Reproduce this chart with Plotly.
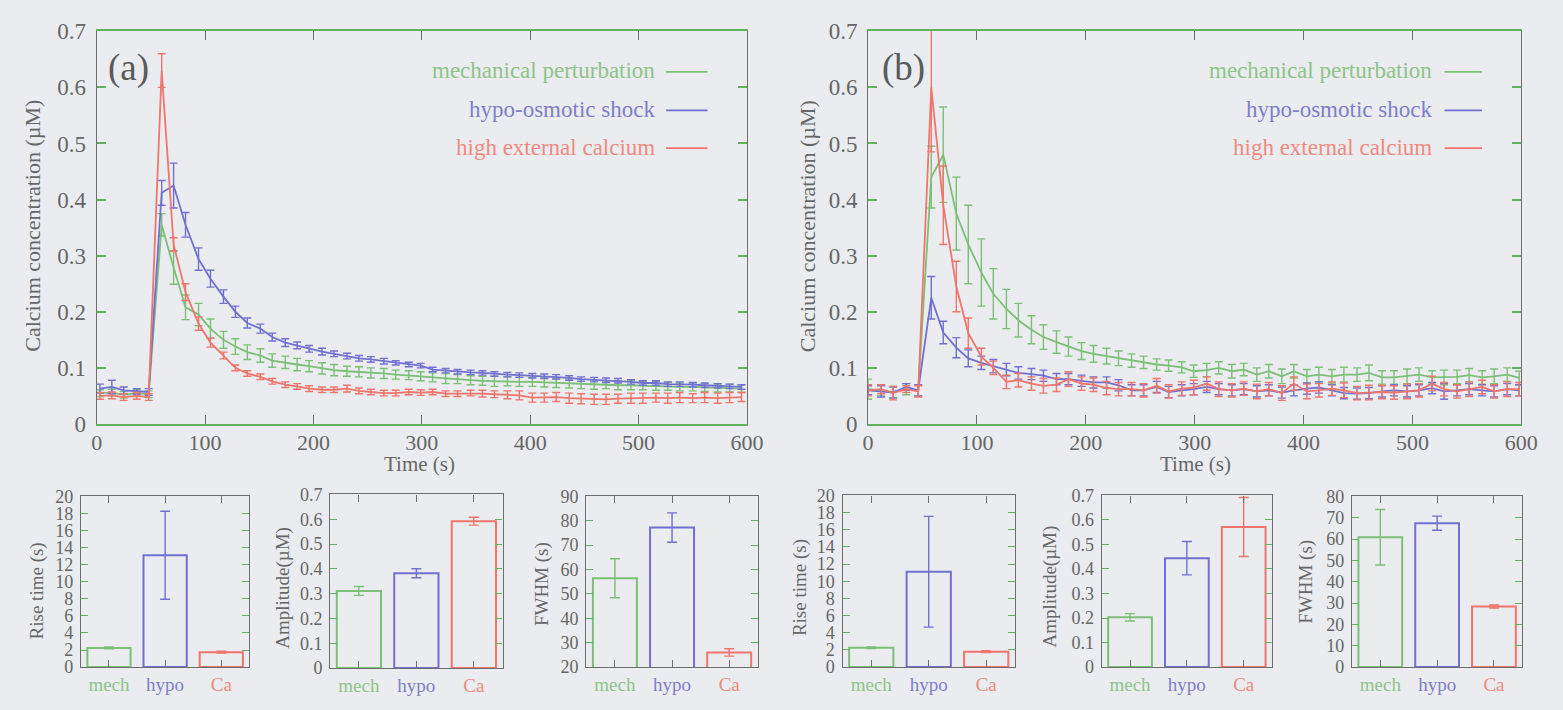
import plotly.graph_objects as go

# ---------------- data ----------------
time_a = [3, 14, 25, 37, 48, 60, 71, 82, 94, 105, 117, 128, 139, 151, 162, 174, 185, 196, 208, 219,
          231, 242, 253, 265, 276, 288, 299, 310, 322, 333, 345, 356, 367, 379, 390, 402, 413, 424,
          436, 447, 459, 470, 481, 493, 504, 516, 527, 538, 550, 561, 573, 584, 595]
mech_a = [0.055, 0.056, 0.052, 0.055, 0.053, 0.355, 0.279, 0.208, 0.195, 0.170, 0.150, 0.138, 0.128,
          0.122, 0.113, 0.110, 0.106, 0.103, 0.099, 0.096, 0.094, 0.093, 0.091, 0.090, 0.088, 0.087,
          0.085, 0.083, 0.081, 0.080, 0.078, 0.077, 0.076, 0.076, 0.075, 0.075, 0.074, 0.073, 0.072,
          0.071, 0.070, 0.070, 0.069, 0.069, 0.068, 0.068, 0.067, 0.066, 0.066, 0.065, 0.064, 0.064, 0.063]
mech_a_err = [0.006, 0.006, 0.006, 0.006, 0.006, 0.020, 0.030, 0.022, 0.020, 0.017, 0.015, 0.014, 0.013,
              0.012, 0.012, 0.011, 0.011, 0.010, 0.010, 0.010, 0.009, 0.009, 0.009, 0.009, 0.008, 0.008,
              0.008, 0.008, 0.009, 0.008, 0.008, 0.008, 0.009, 0.008, 0.008, 0.008, 0.008, 0.008, 0.008,
              0.008, 0.008, 0.007, 0.008, 0.008, 0.007, 0.008, 0.007, 0.007, 0.007, 0.007, 0.007, 0.007, 0.007]
hypo_a = [0.063, 0.066, 0.060, 0.058, 0.057, 0.412, 0.425, 0.355, 0.294, 0.259, 0.227, 0.200, 0.180,
          0.170, 0.155, 0.145, 0.140, 0.134, 0.129, 0.125, 0.121, 0.117, 0.115, 0.112, 0.109, 0.106,
          0.104, 0.097, 0.095, 0.093, 0.092, 0.091, 0.089, 0.088, 0.087, 0.086, 0.085, 0.084, 0.082,
          0.080, 0.079, 0.078, 0.077, 0.075, 0.073, 0.073, 0.071, 0.071, 0.070, 0.069, 0.068, 0.067, 0.066]
hypo_a_err = [0.008, 0.012, 0.006, 0.005, 0.006, 0.022, 0.040, 0.022, 0.020, 0.015, 0.012, 0.010, 0.009,
              0.008, 0.007, 0.007, 0.006, 0.006, 0.006, 0.005, 0.005, 0.005, 0.005, 0.005, 0.004, 0.004,
              0.004, 0.004, 0.004, 0.004, 0.004, 0.004, 0.004, 0.004, 0.004, 0.004, 0.004, 0.004, 0.004,
              0.004, 0.004, 0.004, 0.004, 0.004, 0.004, 0.004, 0.004, 0.004, 0.004, 0.004, 0.004, 0.004, 0.004]
ca_a = [0.050, 0.051, 0.048, 0.050, 0.048, 0.630, 0.320, 0.235, 0.179, 0.145, 0.122, 0.100, 0.090,
        0.084, 0.076, 0.070, 0.067, 0.063, 0.061, 0.061, 0.063, 0.059, 0.057, 0.055, 0.055, 0.057,
        0.056, 0.057, 0.054, 0.054, 0.055, 0.054, 0.053, 0.052, 0.051, 0.047, 0.047, 0.048, 0.046,
        0.045, 0.044, 0.044, 0.045, 0.046, 0.046, 0.047, 0.046, 0.047, 0.046, 0.047, 0.046, 0.047, 0.048]
ca_a_err = [0.006, 0.006, 0.006, 0.006, 0.006, 0.030, 0.012, 0.015, 0.012, 0.008, 0.006, 0.005, 0.005,
            0.005, 0.005, 0.005, 0.005, 0.005, 0.005, 0.005, 0.006, 0.005, 0.005, 0.005, 0.005, 0.005,
            0.005, 0.005, 0.005, 0.005, 0.005, 0.006, 0.006, 0.007, 0.008, 0.008, 0.008, 0.008, 0.009,
            0.009, 0.009, 0.009, 0.008, 0.009, 0.009, 0.008, 0.009, 0.009, 0.008, 0.009, 0.009, 0.009, 0.008]

time_b = [0, 12, 23, 35, 46, 58, 69, 81, 92, 104, 115, 127, 138, 150, 161, 173, 184, 196, 207, 219,
          230, 242, 253, 265, 276, 288, 299, 311, 322, 334, 345, 357, 368, 380, 391, 403, 414, 426,
          437, 449, 460, 472, 483, 495, 506, 518, 529, 541, 552, 564, 575, 587, 598]
mech_b = [0.062, 0.060, 0.057, 0.062, 0.060, 0.440, 0.480, 0.375, 0.320, 0.270, 0.232, 0.205, 0.185,
          0.168, 0.155, 0.146, 0.138, 0.130, 0.125, 0.121, 0.117, 0.113, 0.110, 0.106, 0.104, 0.101,
          0.094, 0.096, 0.100, 0.094, 0.097, 0.088, 0.094, 0.085, 0.094, 0.085, 0.088, 0.085, 0.088,
          0.088, 0.091, 0.083, 0.083, 0.085, 0.088, 0.083, 0.083, 0.084, 0.087, 0.083, 0.085, 0.088, 0.082]
mech_b_err = [0.018, 0.010, 0.010, 0.010, 0.010, 0.055, 0.085, 0.065, 0.070, 0.060, 0.045, 0.035, 0.030,
              0.025, 0.022, 0.020, 0.017, 0.015, 0.015, 0.014, 0.013, 0.012, 0.011, 0.010, 0.010, 0.010,
              0.011, 0.012, 0.011, 0.012, 0.011, 0.012, 0.012, 0.013, 0.012, 0.012, 0.013, 0.012, 0.013,
              0.012, 0.014, 0.012, 0.012, 0.013, 0.012, 0.012, 0.013, 0.012, 0.012, 0.012, 0.013, 0.012, 0.012]
hypo_b = [0.060, 0.058, 0.056, 0.066, 0.060, 0.225, 0.163, 0.136, 0.117, 0.109, 0.103, 0.097, 0.091,
          0.089, 0.086, 0.080, 0.080, 0.077, 0.074, 0.074, 0.069, 0.060, 0.060, 0.066, 0.057, 0.060,
          0.062, 0.066, 0.062, 0.060, 0.062, 0.058, 0.060, 0.056, 0.060, 0.063, 0.065, 0.060, 0.055,
          0.054, 0.055, 0.058, 0.060, 0.058, 0.060, 0.064, 0.058, 0.060, 0.062, 0.060, 0.058, 0.062, 0.060]
hypo_b_err = [0.008, 0.010, 0.010, 0.006, 0.010, 0.038, 0.020, 0.018, 0.015, 0.012, 0.012, 0.011, 0.011,
              0.010, 0.010, 0.010, 0.010, 0.010, 0.010, 0.010, 0.010, 0.010, 0.010, 0.010, 0.010, 0.010,
              0.010, 0.010, 0.010, 0.010, 0.010, 0.010, 0.010, 0.010, 0.010, 0.010, 0.010, 0.010, 0.010,
              0.010, 0.010, 0.010, 0.010, 0.010, 0.010, 0.010, 0.014, 0.010, 0.010, 0.010, 0.010, 0.010, 0.010]
ca_b = [0.060, 0.062, 0.055, 0.062, 0.058, 0.600, 0.390, 0.245, 0.162, 0.120, 0.100, 0.075, 0.078,
        0.072, 0.068, 0.070, 0.080, 0.072, 0.070, 0.064, 0.062, 0.062, 0.060, 0.068, 0.058, 0.063,
        0.065, 0.072, 0.062, 0.060, 0.063, 0.058, 0.062, 0.055, 0.072, 0.058, 0.060, 0.063, 0.060,
        0.055, 0.056, 0.057, 0.056, 0.058, 0.060, 0.072, 0.062, 0.058, 0.062, 0.066, 0.058, 0.062, 0.062]
ca_b_err = [0.010, 0.008, 0.012, 0.006, 0.010, 0.115, 0.070, 0.045, 0.027, 0.015, 0.012, 0.012, 0.012,
            0.012, 0.013, 0.012, 0.013, 0.012, 0.012, 0.012, 0.012, 0.012, 0.012, 0.013, 0.012, 0.012,
            0.013, 0.012, 0.013, 0.012, 0.012, 0.013, 0.012, 0.013, 0.012, 0.013, 0.012, 0.012, 0.013,
            0.012, 0.013, 0.012, 0.012, 0.013, 0.012, 0.013, 0.012, 0.012, 0.013, 0.012, 0.012, 0.013, 0.012]

series_names = ["mechanical perturbation", "hypo-osmotic shock", "high external calcium"]
categories = ["mech", "hypo", "Ca"]
rise_a = [2.25, 13.1, 1.75]
rise_a_err = [0.1, 5.15, 0.1]
amp_a = [0.311, 0.382, 0.592]
amp_a_err = [0.018, 0.018, 0.016]
fwhm_a = [56.4, 77.2, 26.0]
fwhm_a_err = [8.0, 6.0, 1.5]
rise_b = [2.25, 11.1, 1.8]
rise_b_err = [0.1, 6.45, 0.1]
amp_b = [0.203, 0.444, 0.571]
amp_b_err = [0.015, 0.068, 0.12]
fwhm_b = [60.8, 67.4, 28.4]
fwhm_b_err = [13.0, 3.3, 0.7]

# ---------------- style ----------------
W, H = 1563, 710
FONT = "Liberation Serif, Times New Roman, serif"
COLORS = ["#7cbf77", "#7070d2", "#f0756c"]
TEXT_COLORS = ["#8ec489", "#7e7ecb", "#ef8a80"]
FRAME = "#6e6e6e"
GBORDER = "#5fb35a"
TICKGRAY = "#666666"
BG = "#eaecef"

def px_x(p):
    return p / W

def px_y(p):
    return 1 - p / H

fig = go.Figure()

def add_series(t, y, e, color, ax):
    fig.add_trace(go.Scatter(
        x=t, y=y, mode="lines", line=dict(color=color, width=1.8),
        error_y=dict(type="data", array=e, color=color, thickness=1.4, width=4),
        xaxis="x" + ax, yaxis="y" + ax, showlegend=False, hoverinfo="skip"))

add_series(time_a, mech_a, mech_a_err, COLORS[0], "")
add_series(time_a, hypo_a, hypo_a_err, COLORS[1], "")
add_series(time_a, ca_a, ca_a_err, COLORS[2], "")
add_series(time_b, mech_b, mech_b_err, COLORS[0], "2")
add_series(time_b, hypo_b, hypo_b_err, COLORS[1], "2")
add_series(time_b, ca_b, ca_b_err, COLORS[2], "2")

def add_bars(vals, errs, ax):
    for i, (v, e) in enumerate(zip(vals, errs)):
        fig.add_trace(go.Bar(
            x=[i], y=[v], width=0.77,
            marker=dict(color="rgba(0,0,0,0)", line=dict(color=COLORS[i], width=2)),
            error_y=dict(type="data", array=[e], color=COLORS[i], thickness=1.4, width=5),
            xaxis="x" + ax, yaxis="y" + ax, showlegend=False, hoverinfo="skip"))

add_bars(rise_a, rise_a_err, "3")
add_bars(amp_a, amp_a_err, "4")
add_bars(fwhm_a, fwhm_a_err, "5")
add_bars(rise_b, rise_b_err, "6")
add_bars(amp_b, amp_b_err, "7")
add_bars(fwhm_b, fwhm_b_err, "8")

layout = dict(
    width=W, height=H, margin=dict(l=0, r=0, t=0, b=0),
    paper_bgcolor=BG, plot_bgcolor="rgba(0,0,0,0)",
    font=dict(family=FONT, color=TICKGRAY), barmode="overlay", showlegend=False,
)

def main_axes(n, xd, yd):
    sx = "" if n == 1 else str(n)
    layout["xaxis" + sx] = dict(
        domain=xd, range=[0, 600], dtick=100, anchor="y" + sx,
        showline=True, linecolor=GBORDER, linewidth=1.5, mirror="ticks",
        ticks="inside", ticklen=9, tickcolor=FRAME, tickwidth=1.2, ticklabelstandoff=-2,
        showgrid=False, zeroline=False, tickfont=dict(size=22, color=TICKGRAY, family=FONT))
    layout["yaxis" + sx] = dict(
        domain=yd, range=[0, 0.7], dtick=0.1, anchor="x" + sx,
        showline=True, linecolor=FRAME, linewidth=1.2, mirror="ticks",
        ticks="inside", ticklen=9, tickcolor=GBORDER, tickwidth=1.5, ticklabelstandoff=5,
        showgrid=False, zeroline=False, tickfont=dict(size=23, color=TICKGRAY, family=FONT))

main_axes(1, [px_x(92), px_x(752)], [px_y(427), px_y(20)])
main_axes(2, [px_x(875), px_x(1538)], [px_y(427), px_y(20)])

ticktext = ['<span style="color:%s">%s</span>' % (TEXT_COLORS[i], c) for i, c in enumerate(categories)]

def bar_axes(n, x0, x1, y0, y1, yrange, ydtick):
    sx = str(n)
    layout["xaxis" + sx] = dict(
        domain=[px_x(x0), px_x(x1)], range=[-0.5, 2.5], anchor="y" + sx,
        tickvals=[0, 1, 2], ticktext=ticktext,
        showline=True, linecolor=FRAME, linewidth=1.3, mirror="ticks",
        ticks="inside", ticklen=7, tickcolor=FRAME, tickwidth=1.2,
        showgrid=False, zeroline=False, tickfont=dict(size=19, family=FONT))
    layout["yaxis" + sx] = dict(
        domain=[px_y(y1), px_y(y0)], range=yrange, dtick=ydtick, anchor="x" + sx,
        showline=True, linecolor=FRAME, linewidth=1.3, mirror="ticks",
        ticks="inside", ticklen=7, tickcolor=GBORDER, tickwidth=1.4, ticklabelstandoff=3,
        showgrid=False, zeroline=False, tickfont=dict(size=18, color=TICKGRAY, family=FONT))

bar_axes(3, 76, 247, 502, 679, [0, 20], 2)
bar_axes(4, 329, 504, 500, 680, [0, 0.7], 0.1)
bar_axes(5, 589, 763, 502, 679, [20, 90], 10)
bar_axes(6, 849, 1024, 501, 679, [0, 20], 2)
bar_axes(7, 1112, 1285, 501, 679, [0, 0.7], 0.1)
bar_axes(8, 1366, 1539, 502, 679, [0, 80], 10)

fig.update_layout(**layout)

# ---------------- texts ----------------
def ann(text, x, y, size, color=TICKGRAY, angle=0, xanchor="center"):
    fig.add_annotation(text=text, x=px_x(x), y=px_y(y), xref="paper", yref="paper",
                       showarrow=False, textangle=angle, xanchor=xanchor, yanchor="middle",
                       font=dict(family=FONT, size=size, color=color))

ann("Calcium concentration (µM)", 27, 222, 22, angle=-90)
ann("Calcium concentration (µM)", 813, 222, 22, angle=-90)
ann("Time (s)", 420, 468, 21)
ann("Time (s)", 1207, 468, 21)
ann("(a)", 124, 58, 37, color="#5a5a5a")
ann("(b)", 911, 58, 37, color="#5a5a5a")

ann("Rise time (s)", 31, 600, 19, angle=-90)
ann("Amplitude(µM)", 281, 597, 19, angle=-90)
ann("FWHM (s)", 544, 593, 19, angle=-90)
ann("Rise time (s)", 806, 597, 19, angle=-90)
ann("Amplitude(µM)", 1060, 595, 19, angle=-90)
ann("FWHM (s)", 1320, 591, 19, angle=-90)

# legends (text right-aligned, line sample to the right)
legend_rows = [61, 101, 140]
for (text_end, l0, l1) in [(661, 670, 712), (1449, 1460, 1498)]:
    for i, name in enumerate(series_names):
        ann(name, text_end, legend_rows[i], 23, color=TEXT_COLORS[i], xanchor="right")
        fig.add_shape(type="line", xref="paper", yref="paper",
                      x0=px_x(l0), x1=px_x(l1), y0=px_y(legend_rows[i] + 1), y1=px_y(legend_rows[i] + 1),
                      line=dict(color=COLORS[i], width=1.8))

fig.write_html("out.html")
